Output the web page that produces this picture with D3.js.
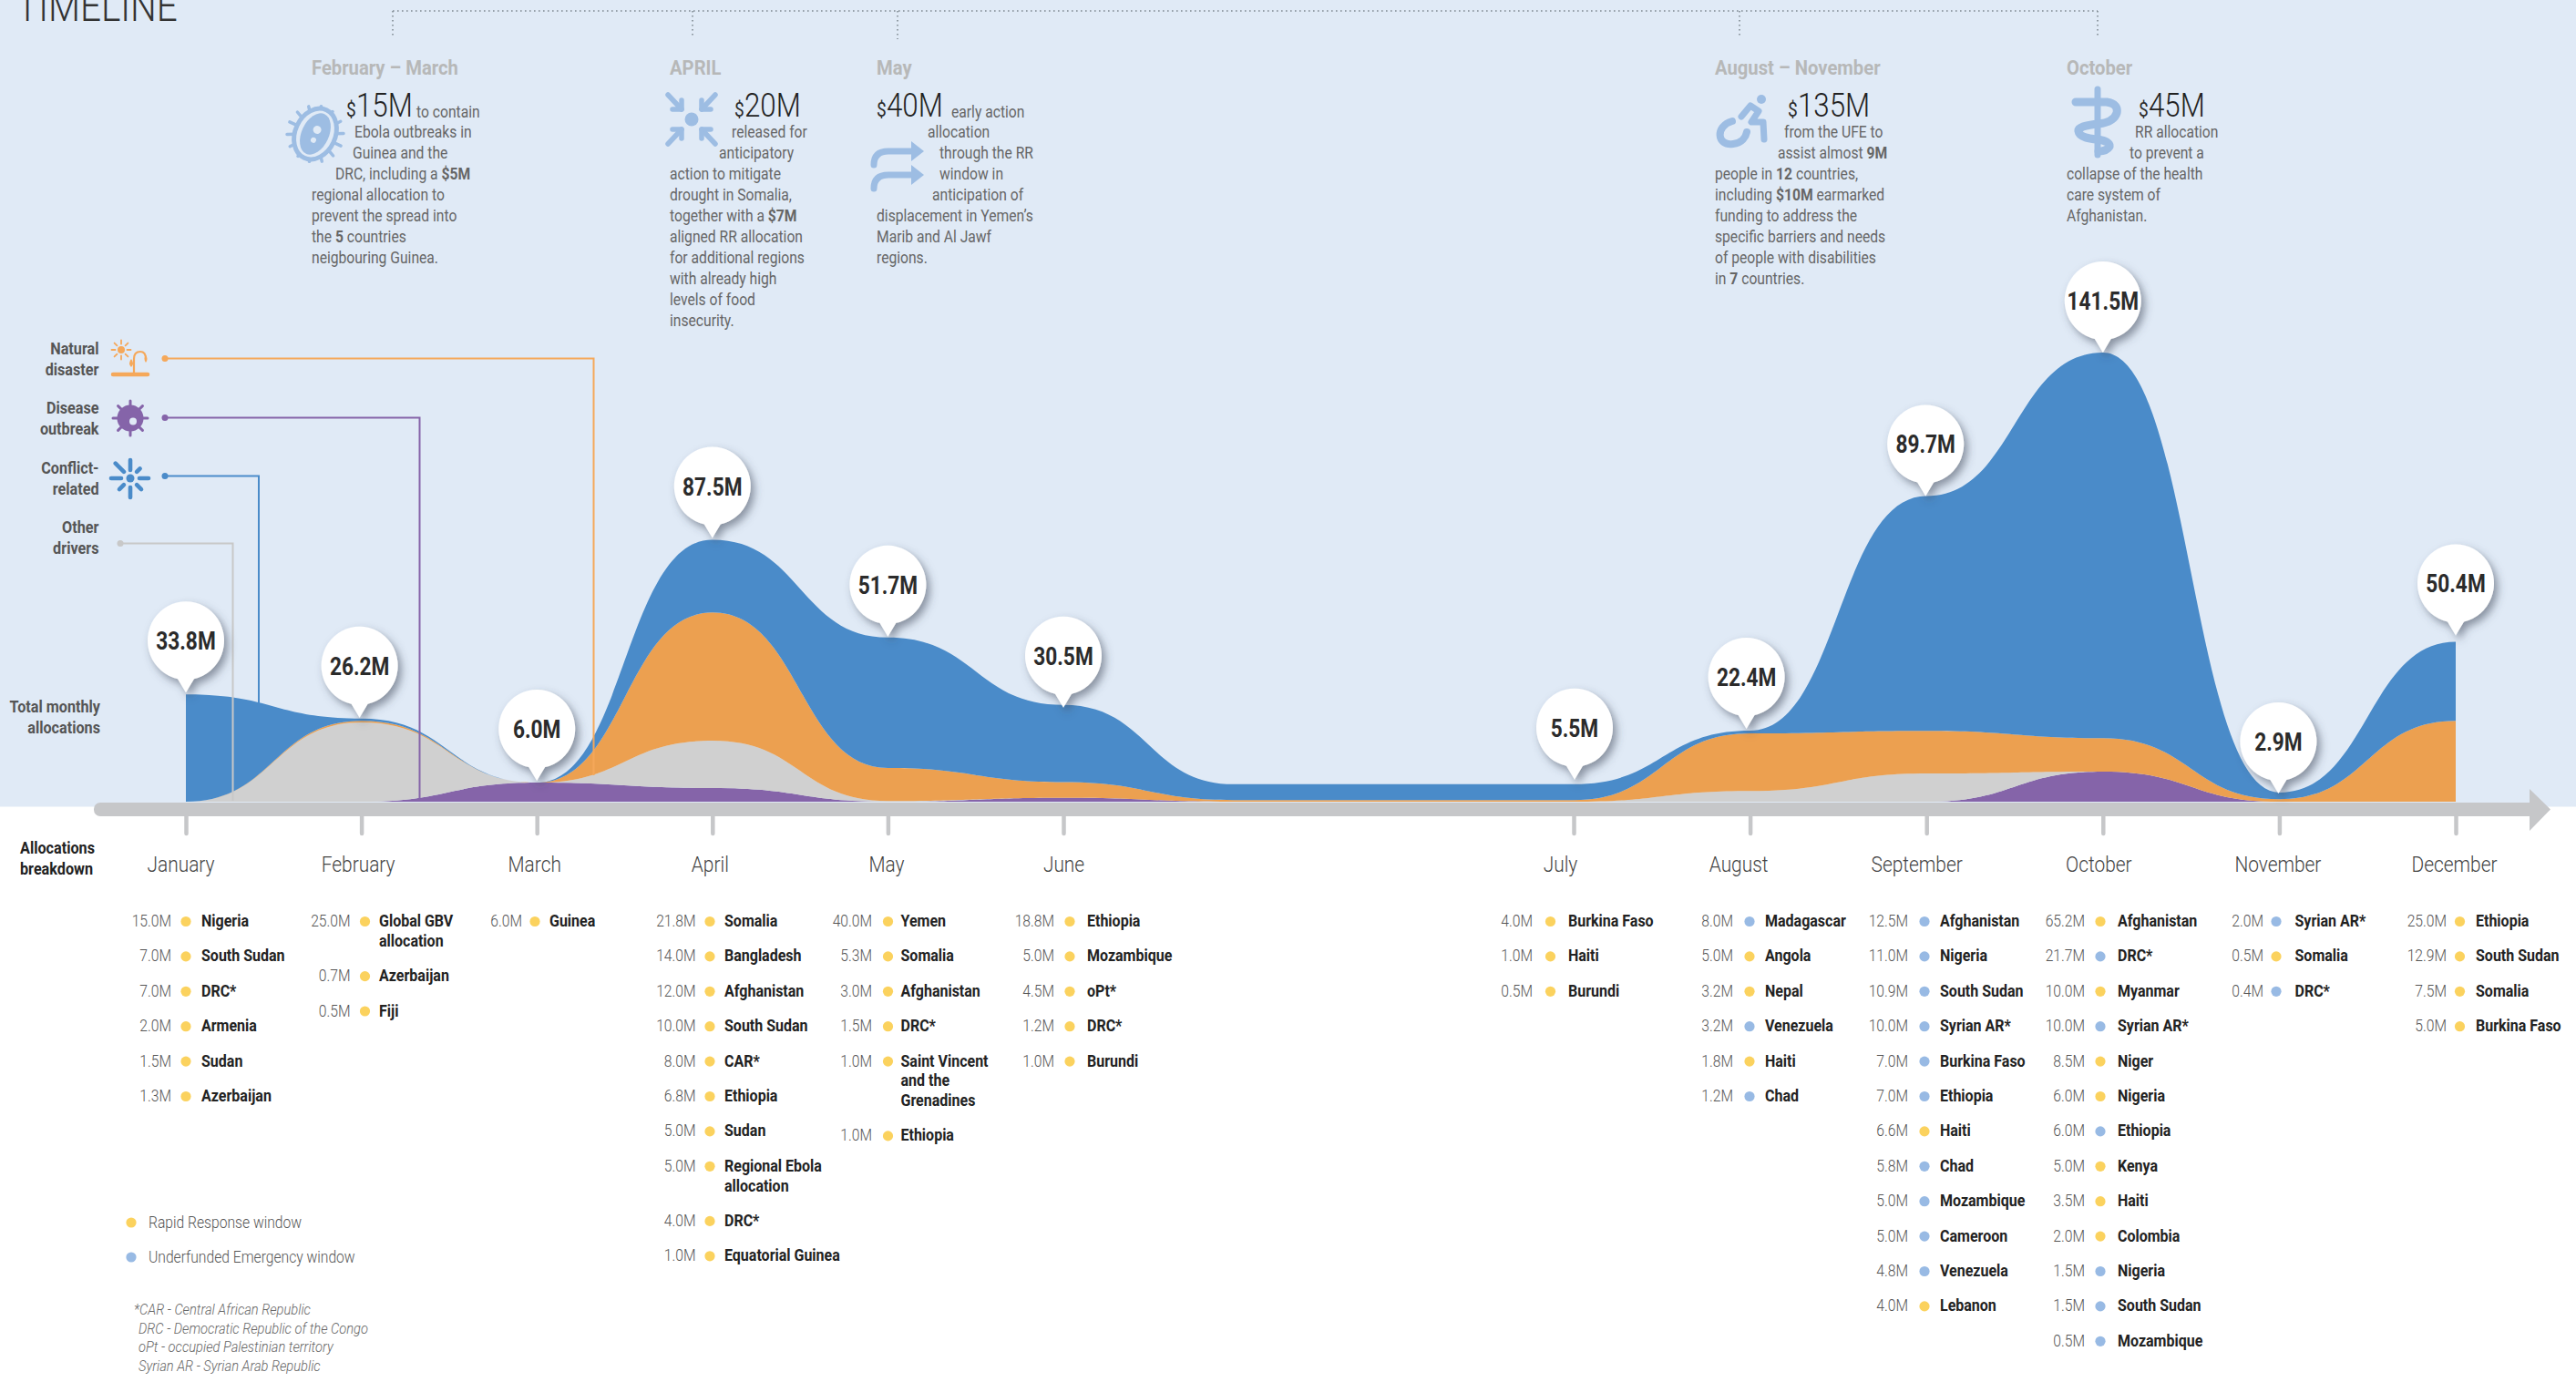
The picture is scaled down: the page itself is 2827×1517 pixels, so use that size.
<!DOCTYPE html>
<html>
<head>
<meta charset="utf-8">
<title>Timeline</title>
<script src="https://cdn.jsdelivr.net/npm/d3@7"></script>
<style>
  html, body { margin: 0; padding: 0; background: #fff; }
  svg { display: block; }
  text { font-family: Roboto, sans-serif; }
</style>
</head>
<body>
<div id="chart"></div>
<script>
// slots along the axis, the two empty ones are the gap between June and July
var slots = ["January", "February", "March", "April", "May", "June", "", "", "July",
    "August", "September", "October", "November", "December"];
var months = slots.filter(function(d) { return d !== ""; });

// stacked values per slot (US$ million)
var disease = [0, 0, 6.0, 4.3, 0, 1.2, 0, 0, 0, 0, 0, 9.5, 0, 0];
var other = [0, 25.0, 0, 14.9, 0.2, 0, 0, 0, 0, 3.4, 8.9, 0, 0, 0];
var natural = [0, 0.5, 0, 40.4, 10.4, 5.0, 0.5, 0.5, 0.5, 18.1, 13.4, 10.5, 0.8, 25.5];
var conflict = [33.8, 0.7, 0, 22.9, 41.1, 24.3, 5.0, 5.0, 5.0, 0.9, 74.0, 121.5, 2.1, 24.9];

var totalLabels = ["33.8M", "26.2M", "6.0M", "87.5M", "51.7M", "30.5M", "5.5M",
    "22.4M", "89.7M", "141.5M", "2.9M", "50.4M"];

// breakdown lists: country, amount, window (R = rapid response, U = underfunded)
var janList = [["Nigeria", 15.0, "R"], ["South Sudan", 7.0, "R"], ["DRC*", 7.0, "R"],
    ["Armenia", 2.0, "R"], ["Sudan", 1.5, "R"], ["Azerbaijan", 1.3, "R"]];
var febList = [["Global GBV\nallocation", 25.0, "R"], ["Azerbaijan", 0.7, "R"], ["Fiji", 0.5, "R"]];
var marList = [["Guinea", 6.0, "R"]];
var aprList = [["Somalia", 21.8, "R"], ["Bangladesh", 14.0, "R"], ["Afghanistan", 12.0, "R"],
    ["South Sudan", 10.0, "R"], ["CAR*", 8.0, "R"], ["Ethiopia", 6.8, "R"], ["Sudan", 5.0, "R"],
    ["Regional Ebola\nallocation", 5.0, "R"], ["DRC*", 4.0, "R"], ["Equatorial Guinea", 1.0, "R"]];
var mayList = [["Yemen", 40.0, "R"], ["Somalia", 5.3, "R"], ["Afghanistan", 3.0, "R"], ["DRC*", 1.5, "R"],
    ["Saint Vincent\nand the\nGrenadines", 1.0, "R"], ["Ethiopia", 1.0, "R"]];
var junList = [["Ethiopia", 18.8, "R"], ["Mozambique", 5.0, "R"], ["oPt*", 4.5, "R"],
    ["DRC*", 1.2, "R"], ["Burundi", 1.0, "R"]];
var julList = [["Burkina Faso", 4.0, "R"], ["Haiti", 1.0, "R"], ["Burundi", 0.5, "R"]];
var augList = [["Madagascar", 8.0, "U"], ["Angola", 5.0, "R"], ["Nepal", 3.2, "R"],
    ["Venezuela", 3.2, "U"], ["Haiti", 1.8, "R"], ["Chad", 1.2, "U"]];
var sepList = [["Afghanistan", 12.5, "U"], ["Nigeria", 11.0, "U"], ["South Sudan", 10.9, "U"],
    ["Syrian AR*", 10.0, "U"], ["Burkina Faso", 7.0, "U"], ["Ethiopia", 7.0, "U"], ["Haiti", 6.6, "R"],
    ["Chad", 5.8, "U"], ["Mozambique", 5.0, "U"], ["Cameroon", 5.0, "U"], ["Venezuela", 4.8, "U"],
    ["Lebanon", 4.0, "R"]];
var octList = [["Afghanistan", 65.2, "R"], ["DRC*", 21.7, "U"], ["Myanmar", 10.0, "R"],
    ["Syrian AR*", 10.0, "U"], ["Niger", 8.5, "R"], ["Nigeria", 6.0, "R"], ["Ethiopia", 6.0, "U"],
    ["Kenya", 5.0, "R"], ["Haiti", 3.5, "R"], ["Colombia", 2.0, "R"], ["Nigeria", 1.5, "U"],
    ["South Sudan", 1.5, "U"], ["Mozambique", 0.5, "U"]];
var novList = [["Syrian AR*", 2.0, "U"], ["Somalia", 0.5, "R"], ["DRC*", 0.4, "U"]];
var decList = [["Ethiopia", 25.0, "R"], ["South Sudan", 12.9, "R"], ["Somalia", 7.5, "R"], ["Burkina Faso", 5.0, "R"]];
var monthLists = [janList, febList, marList, aprList, mayList, junList, julList, augList, sepList, octList, novList, decList];

var footnotes = ["*CAR - Central African Republic", "DRC - Democratic Republic of the Congo",
    "oPt - occupied Palestinian territory", "Syrian AR - Syrian Arab Republic"];

// top notes
var notes = [
    { head: "February \u2013 March", x: 342, amount: "15M", ax: 380, after: "to contain", afterX: 457,
      lines: [[389, "Ebola outbreaks in"], [387, "Guinea and the"], [368, "DRC, including a **$5M**"],
          [342, "regional allocation to"], [342, "prevent the spread into"], [342, "the **5** countries"],
          [342, "neigbouring Guinea."]] },
    { head: "APRIL", x: 735, amount: "20M", ax: 806,
      lines: [[803, "released for"], [789, "anticipatory"], [735, "action to mitigate"],
          [735, "drought in Somalia,"], [735, "together with a **$7M**"], [735, "aligned RR allocation"],
          [735, "for additional regions"], [735, "with already high"], [735, "levels of food"], [735, "insecurity."]] },
    { head: "May", x: 962, amount: "40M", ax: 962, after: "early action", afterX: 1044,
      lines: [[1018, "allocation"], [1031, "through the RR"], [1031, "window in"], [1023, "anticipation of"],
          [962, "displacement in Yemen\u2019s"], [962, "Marib and Al Jawf"], [962, "regions."]] },
    { head: "August \u2013 November", x: 1882, amount: "135M", ax: 1962,
      lines: [[1958, "from the UFE to"], [1951, "assist almost **9M**"], [1882, "people in **12** countries,"],
          [1882, "including **$10M** earmarked"], [1882, "funding to address the"], [1882, "specific barriers and needs"],
          [1882, "of people with disabilities"], [1882, "in **7** countries."]] },
    { head: "October", x: 2268, amount: "45M", ax: 2347,
      lines: [[2343, "RR allocation"], [2337, "to prevent a"], [2268, "collapse of the health"],
          [2268, "care system of"], [2268, "Afghanistan."]] }
];

var W = 2827, H = 1517,
    baseY = 880,
    squeeze = 0.87,
    colors = { conflict: "#4a8bc9", natural: "#eca050", other: "#d0d0d0", disease: "#8564a9" },
    lineColors = { conflict: "#4a8bc9", natural: "#f5a85a", other: "#c8c8c8", disease: "#8564a9" },
    iconBlue = "#9dbde3",
    dotColors = { R: "#fbd25e", U: "#98bae4" };

var svg = d3.select("#chart").append("svg")
    .attr("width", W)
    .attr("height", H);

var defs = svg.append("defs");
var shadow = defs.append("filter").attr("id", "bubbleShadow")
    .attr("x", "-40%").attr("y", "-40%").attr("width", "190%").attr("height", "190%");
shadow.append("feDropShadow")
    .attr("dx", 4).attr("dy", 5).attr("stdDeviation", 5)
    .attr("flood-color", "#3c4658").attr("flood-opacity", 0.55);

svg.append("rect").attr("width", W).attr("height", 885.5).attr("fill", "#e0eaf6");

// condensed look: Roboto squeezed horizontally, **x** switches to bold
function addText(parent, x, y, str, o) {
    o = o || {};
    var t = parent.append("text")
        .attr("transform", "translate(" + x + "," + y + ") scale(" + (o.sx || squeeze) + ",1)")
        .attr("text-anchor", o.anchor || "start")
        .attr("font-size", o.size || 18)
        .attr("font-weight", o.weight || 300)
        .attr("font-style", o.italic ? "italic" : "normal")
        .attr("fill", o.fill || "#555");
    str.split("**").forEach(function(part, i) {
        t.append("tspan").attr("font-weight", i % 2 ? 700 : (o.weight || 300)).text(part);
    });
    return t;
}

// scales. x is piecewise so the June-July gap keeps its own spacing
var slotIdx = slots.map(function(d, i) { return i; });
var x = d3.scaleLinear().domain([0, 5, 8, 13]).range([204, 1167, 1727, 2695]);
var y = d3.scaleLinear().domain([0, 141.5]).range([baseY, 387]);

var rows = slotIdx.map(function(i) {
    return { slot: i, disease: disease[i], other: other[i], natural: natural[i], conflict: conflict[i] };
});
var stacked = d3.stack().keys(["disease", "other", "natural", "conflict"])(rows);

var area = d3.area()
    .curve(d3.curveBumpX)
    .x(function(d) { return x(d.data.slot); })
    .y0(function(d) { return y(d[0]); })
    .y1(function(d) { return y(d[1]); });

svg.append("g").selectAll("path")
    .data(stacked)
    .enter().append("path")
    .attr("fill", function(d) { return colors[d.key]; })
    .attr("d", area);

// axis bar with arrow head
svg.append("rect").attr("x", 103).attr("y", 881).attr("width", 2680).attr("height", 15).attr("rx", 7).attr("fill", "#c6c7c9");
svg.append("path").attr("d", "M2776,866L2799,888.5L2776,912Z").attr("fill", "#c6c7c9");

var monthSlots = months.map(function(m) { return slots.indexOf(m); });
var axis = d3.axisBottom(x)
    .tickValues(monthSlots)
    .tickSize(19)
    .tickFormat(function(d) { return slots[d]; });
var axisG = svg.append("g").attr("transform", "translate(0,896)").call(axis);
axisG.select(".domain").remove();
axisG.selectAll(".tick line")
    .attr("stroke", "#c6c7c9").attr("stroke-width", 4.5).attr("stroke-linecap", "round");
var labelShift = [-6, -4, -3, -3, -2, 0, -15, -13, -11, -5, -2, -2];
axisG.selectAll(".tick text")
    .attr("y", 0).attr("dy", 0)
    .attr("transform", function(d, i) { return "translate(" + labelShift[i] + ",61) scale(" + squeeze + ",1)"; })
    .attr("font-family", "Roboto, sans-serif")
    .attr("font-size", 24)
    .attr("font-weight", 300)
    .attr("fill", "#444");

// leader lines from the driver legend down into the areas
var leaders = [
    { key: "natural", x0: 181, yy: 393.5, xx: 651.5, y1: 851 },
    { key: "disease", x0: 181, yy: 458.5, xx: 460.5, y1: 876 },
    { key: "conflict", x0: 181, yy: 522.5, xx: 284, y1: 816 },
    { key: "other", x0: 132, yy: 596.5, xx: 255.5, y1: 879 }
];
var leaderG = svg.append("g");
leaders.forEach(function(l) {
    leaderG.append("path")
        .attr("d", "M" + l.x0 + "," + l.yy + "H" + l.xx + "V" + l.y1)
        .attr("fill", "none").attr("stroke", lineColors[l.key]).attr("stroke-width", 2);
    leaderG.append("circle").attr("cx", l.x0).attr("cy", l.yy).attr("r", 3.5).attr("fill", lineColors[l.key]);
});

// value bubbles sit on top of the stack at each month
var bubbleDy = [-2, -1, -2, -2, -1, 3, -5, -2, 0, 0, 1, -7],
    bubbleDx = [0, -2, 0, 0, 0, 0, 1, -4, -1, 0, -1, 0];
var bubbles = svg.append("g").selectAll("g")
    .data(monthSlots)
    .enter().append("g")
    .attr("transform", function(s, i) {
        return "translate(" + (x(s) + bubbleDx[i]) + "," +
            (y(disease[s] + other[s] + natural[s] + conflict[s]) + bubbleDy[i]) + ")";
    });
bubbles.append("path")
    .attr("d", "M0,0L-9,-15A42,43 0 1 1 9,-15Z")
    .attr("fill", "#fff")
    .attr("filter", "url(#bubbleShadow)");
bubbles.each(function(s, i) {
    addText(d3.select(this), 0, -47, totalLabels[i], { anchor: "middle", size: 27, weight: 700, fill: "#2b2b2b", sx: 0.84 });
});

// left hand labels
[[383, "Natural"], [406, "disaster"], [448, "Disease"], [471, "outbreak"], [514, "Conflict-"],
    [537, "related"], [579, "Other"], [602, "drivers"]].forEach(function(d) {
    addText(svg, 108.5, d[0] + 6, d[1], { anchor: "end", weight: 700, fill: "#555", sx: 0.9 });
});
addText(svg, 110, 782, "Total monthly", { anchor: "end", weight: 700, fill: "#555", sx: 0.9 });
addText(svg, 110, 805, "allocations", { anchor: "end", weight: 700, fill: "#555", sx: 0.9 });
addText(svg, 22, 937, "Allocations", { weight: 700, fill: "#222", sx: 0.9 });
addText(svg, 22, 960, "breakdown", { weight: 700, fill: "#222", sx: 0.9 });

// TIMELINE title, cut by the top of the page
addText(svg, 18, 23, "TIMELINE", { size: 46, weight: 300, fill: "#333", sx: 0.88 });

// dotted bracket above the notes
var bracket = svg.append("g").attr("fill", "none").attr("stroke", "#7f8a92")
    .attr("stroke-width", 1.6).attr("stroke-dasharray", "1.6 3.4");
bracket.append("path").attr("d", "M431,12H2302");
[[431, 40], [760, 40], [985, 43], [1909, 40], [2302, 40]].forEach(function(d) {
    bracket.append("path").attr("d", "M" + d[0] + ",12V" + d[1]);
});

// notes
var noteG = svg.append("g");
notes.forEach(function(n) {
    addText(noteG, n.x, 82, n.head, { size: 22, weight: 700, fill: "#b7b8b8", sx: 0.92 });
    addText(noteG, n.ax, 128, "$", { size: 22, weight: 400, fill: "#2b2b2b" });
    addText(noteG, n.ax + 11, 128, n.amount, { size: 36, weight: 300, fill: "#222" });
    if (n.after) addText(noteG, n.afterX, 129, n.after, { size: 18, weight: 400, fill: "#666" });
    n.lines.forEach(function(l, i) {
        addText(noteG, l[0], 151 + i * 23, l[1], { size: 18, weight: 400, fill: "#666" });
    });
});

// breakdown columns: right edge of value, dot, name
var columns = [[188, 204, 221], [384.5, 400.5, 416], [573, 587, 603], [763.5, 779, 795], [957, 974.5, 988.5],
    [1157, 1174, 1193], [1682, 1701.5, 1721], [1902, 1920, 1937], [2094, 2112, 2129], [2288, 2305, 2324],
    [2484, 2498, 2518.5], [2685, 2699.5, 2717]];
var listG = svg.append("g");
monthLists.forEach(function(list, m) {
    var yy = 1011, col = columns[m];
    list.forEach(function(d) {
        var names = d[0].split("\n");
        addText(listG, col[0], yy + 6, d[1].toFixed(1) + "M", { anchor: "end", size: 18, fill: "#555" });
        listG.append("circle").attr("cx", col[1]).attr("cy", yy + 0.5).attr("r", 5.6).attr("fill", dotColors[d[2]]);
        names.forEach(function(nm, i) {
            addText(listG, col[2], yy + 6 + i * 21.7, nm, { size: 18, weight: 700, fill: "#222", sx: 0.89 });
        });
        yy += 38.4 + (names.length - 1) * 21.7;
    });
});

// window legend
[[1342, "R", "Rapid Response window"], [1380, "U", "Underfunded Emergency window"]].forEach(function(d) {
    listG.append("circle").attr("cx", 144).attr("cy", d[0]).attr("r", 5.6).attr("fill", dotColors[d[1]]);
    addText(listG, 163, d[0] + 6, d[2], { size: 18, fill: "#555" });
});

footnotes.forEach(function(f, i) {
    addText(svg, i === 0 ? 147 : 152, 1443 + i * 20.5, f, { size: 16.5, italic: true, fill: "#666", sx: 0.89 });
});

// icons
function stroked(g, d, w, c) {
    return g.append("path").attr("d", d).attr("fill", "none").attr("stroke", c)
        .attr("stroke-width", w).attr("stroke-linecap", "round").attr("stroke-linejoin", "round");
}
function radial(g, n, r0, r1, w, c) {
    d3.range(n).forEach(function(i) {
        var a = i / n * 2 * Math.PI;
        stroked(g, "M" + r0 * Math.cos(a) + "," + r0 * Math.sin(a) + "L" + r1 * Math.cos(a) + "," + r1 * Math.sin(a), w, c);
    });
}

// natural disaster
var ic = svg.append("g").attr("transform", "translate(133,384)");
ic.append("circle").attr("r", 4).attr("fill", "#f5a85a");
radial(ic, 8, 6.5, 10.5, 1.8, "#f5a85a");
ic = svg.append("g");
stroked(ic, "M124,411H162", 4.5, "#f5a85a");
stroked(ic, "M147,410V394Q147,386 154,386Q160,386 160,394", 2.2, "#f5a85a");
ic.append("path").attr("d", "M144,394q-4,5 0,9q4,-4 0,-9Z M160,390q-3,4 0,8q3,-4 0,-8Z").attr("fill", "#f5a85a");

// disease
ic = svg.append("g").attr("transform", "translate(143,459)");
radial(ic, 8, 12, 19, 3, "#8564a9");
ic.append("circle").attr("r", 14.5).attr("fill", "#8564a9");
ic.append("circle").attr("cx", 3).attr("cy", 3.5).attr("r", 4).attr("fill", "#e0eaf6");

// conflict
ic = svg.append("g").attr("transform", "translate(143,525)");
ic.append("circle").attr("r", 4.5).attr("fill", "#4a8bc9");
[[0, 10, 20], [45, 10, 17], [90, 10, 21], [135, 10, 17], [180, 10, 21], [225, 10, 23], [270, 9, 20], [315, 10, 15]].forEach(function(d) {
    var a = d[0] * Math.PI / 180;
    stroked(ic, "M" + d[1] * Math.cos(a) + "," + d[1] * Math.sin(a) + "L" + d[2] * Math.cos(a) + "," + d[2] * Math.sin(a), 4.6, "#4a8bc9");
});

// bacterium
ic = svg.append("g").attr("transform", "translate(346,147) rotate(25)");
radial(ic, 14, 22, 31, 3.5, iconBlue);
ic.append("ellipse").attr("rx", 22).attr("ry", 29).attr("fill", "#e0eaf6").attr("stroke", iconBlue).attr("stroke-width", 5);
ic.append("ellipse").attr("rx", 15).attr("ry", 24).attr("fill", iconBlue);
ic.append("circle").attr("cx", 0).attr("cy", -5).attr("r", 4.5).attr("fill", "#e0eaf6");
ic.append("circle").attr("cx", 1).attr("cy", 7).attr("r", 3).attr("fill", "#e0eaf6");

// arrows pointing in
ic = svg.append("g").attr("transform", "translate(759,131)");
ic.append("circle").attr("r", 7.5).attr("fill", iconBlue);
[[-1, -1], [1, -1], [-1, 1], [1, 1]].forEach(function(s) {
    var sx = s[0], sy = s[1];
    stroked(ic, "M" + sx * 26 + "," + sy * 27 + "L" + sx * 11 + "," + sy * 11, 5.5, iconBlue);
    stroked(ic, "M" + sx * 11 + "," + sy * 21 + "L" + sx * 11 + "," + sy * 11 + "L" + sx * 21 + "," + sy * 11, 5.5, iconBlue);
});

// two bent arrows
ic = svg.append("g");
[0, 26].forEach(function(dy) {
    stroked(ic, "M959," + (181 + dy) + "Q959," + (166 + dy) + " 975," + (166 + dy) + "H1006", 7, iconBlue);
    ic.append("path").attr("d", "M1000," + (155 + dy) + "L1014," + (166 + dy) + "L1000," + (177 + dy) + "Z").attr("fill", iconBlue);
});

// wheelchair
ic = svg.append("g");
ic.append("circle").attr("cx", 1933).attr("cy", 109).attr("r", 5).attr("fill", iconBlue);
stroked(ic, "M1911,128L1921,116L1930,122L1922,134H1935L1936,153", 7, iconBlue);
stroked(ic, "M1901,133C1882,138 1884,161 1902,158C1912,157 1916,150 1917,145", 8, iconBlue);

// staff and snake
ic = svg.append("g");
stroked(ic, "M2302,98V170", 7, iconBlue);
stroked(ic, "M2278,112H2312Q2325,114 2323,124Q2320,134 2303,136Q2280,138 2281,144Q2282,152 2302,153Q2316,155 2315,161Q2312,166 2303,166", 9, iconBlue);
</script>
</body>
</html>
